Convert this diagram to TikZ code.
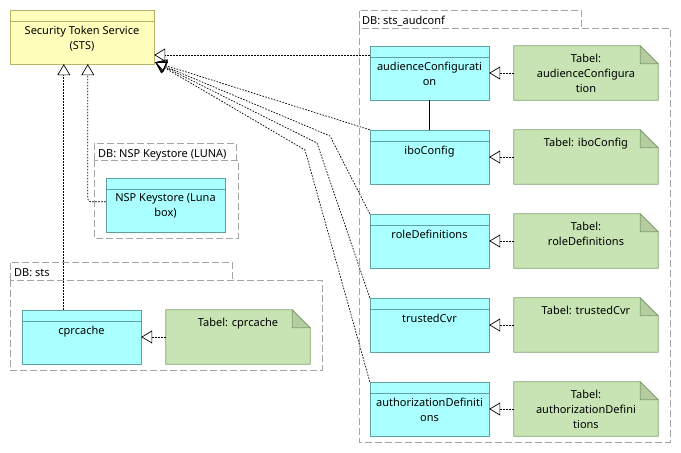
\documentclass[tikz,border=0pt]{standalone}
\usepackage{fontspec}
\setmainfont{Noto Sans}
\usetikzlibrary{arrows.meta}
\definecolor{stsfill}{RGB}{255,255,187}
\definecolor{stsdraw}{RGB}{180,180,100}
\definecolor{clsfill}{RGB}{170,255,255}
\definecolor{clsdraw}{RGB}{95,160,160}
\definecolor{notefill}{RGB}{200,228,180}
\definecolor{notedraw}{RGB}{130,160,110}
\definecolor{foldfill}{RGB}{180,204,160}
\definecolor{pkgdraw}{RGB}{165,165,165}
\tikzset{
  txt/.style={font=\fontsize{11}{15}\selectfont, inner sep=0pt, align=center},
  stsbox/.style={draw=stsdraw, fill=stsfill, minimum width=144pt, minimum height=54pt, inner sep=0pt},
  clsbox/.style={draw=clsdraw, fill=clsfill, minimum width=119pt, minimum height=54pt, inner sep=0pt},
  notebox/.style={minimum width=144pt, minimum height=54pt, inner sep=0pt},
  pkgline/.style={draw=pkgdraw, dash pattern=on 7pt off 3pt, line width=0.7pt},
  dep/.style={draw=black, line width=0.7pt, dash pattern=on 1.6pt off 1.4pt, -{Triangle[open, length=11pt, width=13pt, line width=0.7pt]}},
}
\newcommand\drawnote[1]{%
  \draw[draw=notedraw, fill=notefill, line width=0.7pt] (#1.north west) -- ([xshift=-18pt]#1.north east) -- ([yshift=-18pt]#1.north east) -- (#1.south east) -- (#1.south west) -- cycle;
  \draw[draw=notedraw, fill=foldfill, line width=0.7pt] ([xshift=-18pt]#1.north east) -- ([yshift=-18pt]#1.north east) -- ([shift={(-18pt,-18pt)}]#1.north east) -- cycle;}
\newcommand\clsheader[1]{%
  \draw[draw=clsdraw, line width=0.7pt] ([yshift=-12pt]#1.north west) -- ([yshift=-12pt]#1.north east);}
\begin{document}
\begin{tikzpicture}[x=1pt, y=-1pt]
\useasboundingbox (0,0) rectangle (681,453);
% packages
\draw[pkgline] (359,28) -- (359,10) -- (581,10) -- (581,28);
\draw[pkgline] (359,28) rectangle (670,442);
\node[txt, anchor=base west] (pk1) at (362,24) {DB: sts\_audconf};
\draw[pkgline] (94,160) -- (94,143) -- (236,143) -- (236,160);
\draw[pkgline] (94,160) rectangle (238,238);
\node[txt, anchor=base west] (pk2) at (98,157) {DB: NSP Keystore (LUNA)};
\draw[pkgline] (10,280) -- (10,262) -- (232,262) -- (232,280);
\draw[pkgline] (10,280) rectangle (322,370);
\node[txt, anchor=base west] (pk3) at (14,276) {DB: sts};
% STS
\node[stsbox] (sts) at (82,37) {};
\draw[draw=stsdraw, line width=0.7pt] ([yshift=-12pt]sts.north west) -- ([yshift=-12pt]sts.north east);
\node[txt, anchor=north] (ststxt) at ([yshift=-16pt]sts.north) {Security Token Service\\(STS)};
% classes
\node[clsbox] (aud) at (429.5,73) {};
\node[clsbox] (ibo) at (429.5,157) {};
\node[clsbox] (role) at (429.5,241) {};
\node[clsbox] (trust) at (429.5,325) {};
\node[clsbox] (auth) at (429.5,409) {};
\node[clsbox] (nsp) at (165.5,205) {};
\node[clsbox] (cpr) at (81.5,337) {};
\foreach \n in {aud,ibo,role,trust,auth,nsp,cpr} {\clsheader{\n}}
\node[txt, anchor=north] (audt) at ([yshift=-16pt]aud.north) {audienceConfigurati\\on};
\node[txt, anchor=north] (ibot) at ([yshift=-16pt]ibo.north) {iboConfig};
\node[txt, anchor=north] (rolet) at ([yshift=-16pt]role.north) {roleDefinitions};
\node[txt, anchor=north] (trustt) at ([yshift=-16pt]trust.north) {trustedCvr};
\node[txt, anchor=north] (autht) at ([yshift=-16pt]auth.north) {authorizationDefiniti\\ons};
\node[txt, anchor=north] (nspt) at ([yshift=-16pt]nsp.north) {NSP Keystore (Luna\\box)};
\node[txt, anchor=north] (cprt) at ([yshift=-16pt]cpr.north) {cprcache};
% notes
\node[notebox] (n1) at (586,73) {};
\node[notebox] (n2) at (586,157) {};
\node[notebox] (n3) at (586,241) {};
\node[notebox] (n4) at (586,325) {};
\node[notebox] (n5) at (586,409) {};
\node[notebox] (n6) at (238,337) {};
\foreach \n in {n1,n2,n3,n4,n5,n6} {\drawnote{\n}}
\node[txt, anchor=north] (n1t) at ([yshift=-8pt]n1.north) {Tabel:\\audienceConfigura\\tion};
\node[txt, anchor=north] (n2t) at ([yshift=-8pt]n2.north) {Tabel: iboConfig};
\node[txt, anchor=north] (n3t) at ([yshift=-8pt]n3.north) {Tabel:\\roleDefinitions};
\node[txt, anchor=north] (n4t) at ([yshift=-8pt]n4.north) {Tabel: trustedCvr};
\node[txt, anchor=north] (n5t) at ([yshift=-8pt]n5.north) {Tabel:\\authorizationDefini\\tions};
\node[txt, anchor=north] (n6t) at ([yshift=-8pt]n6.north) {Tabel: cprcache};
% note connectors
\draw[dep] (n1.west) -- (aud.east);
\draw[dep] (n2.west) -- (ibo.east);
\draw[dep] (n3.west) -- (role.east);
\draw[dep] (n4.west) -- (trust.east);
\draw[dep] (n5.west) -- (auth.east);
\draw[dep] (n6.west) -- (cpr.east);
% solid association
\draw[line width=0.7pt] (aud.south) -- (ibo.south |- ibo.north);
% dependencies to STS
\coordinate (tip) at ([shift={(1pt,2pt)}]sts.south east);
\coordinate (b3) at (330,136);
\coordinate (b4) at (317,143);
\coordinate (b5) at (305,150);
\draw[dep] ([yshift=18pt]aud.west) -- ([yshift=-18pt]sts.east);
\draw[dep] (ibo.north west) -- (tip);
\draw[dep] (role.north west) -- (b3) -- (tip);
\draw[dep] (trust.north west) -- (b4) -- (tip);
\draw[dep] (auth.north west) -- (b5) -- (tip);
\draw[dep] ([xshift=42pt]cpr.north west) -- ([xshift=54pt]sts.south west);
\draw[dep, rounded corners=3pt] ([yshift=-24pt]nsp.north west) -| ([xshift=78pt]sts.south west);
\end{tikzpicture}
\end{document}
